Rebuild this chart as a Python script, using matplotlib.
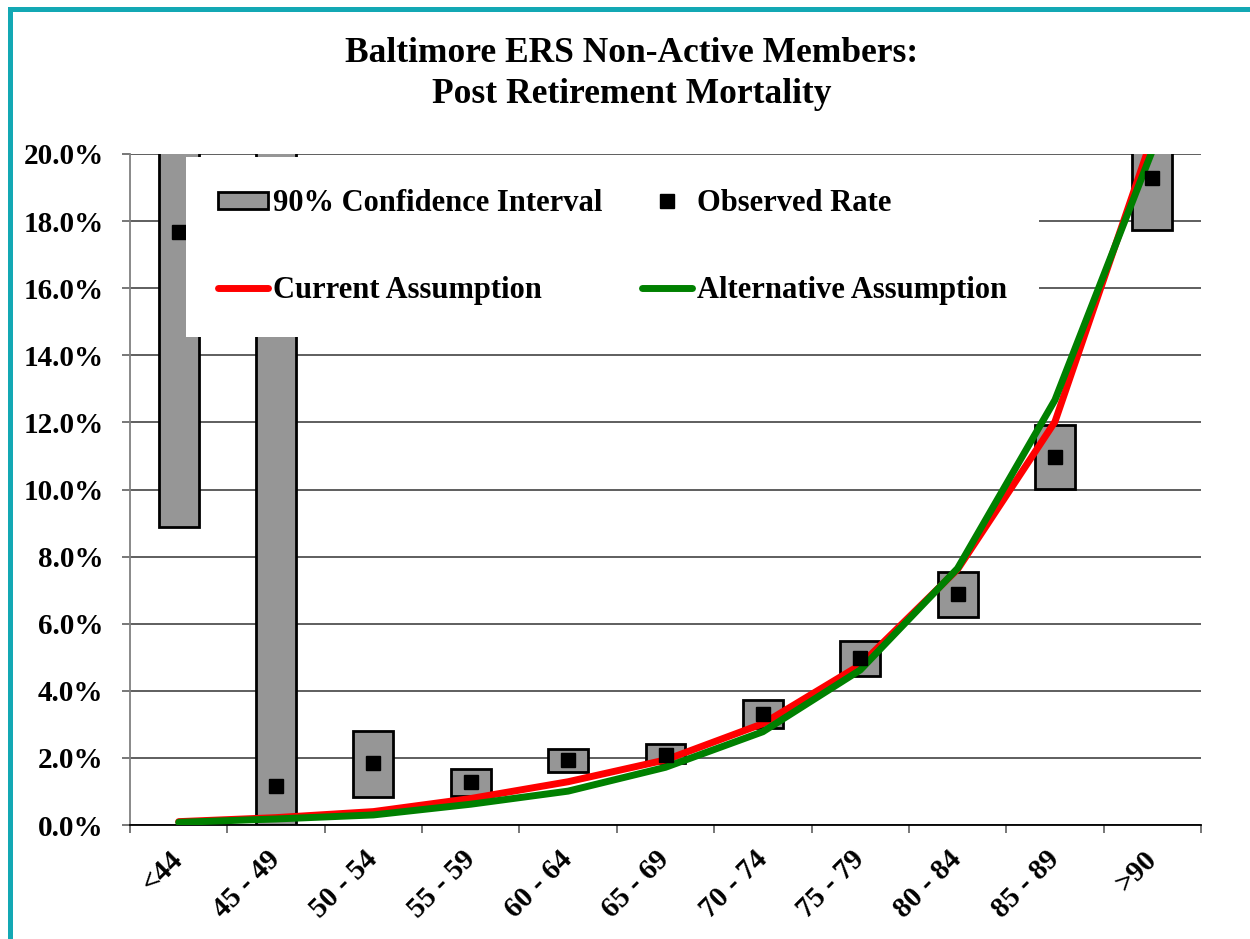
import matplotlib.pyplot as plt
import numpy as np
from matplotlib.patches import Rectangle

plt.rcParams['font.family'] = ['Liberation Serif', 'DejaVu Serif']
plt.rcParams['font.weight'] = 'bold'

# age groups
ages = ["<44", "45 - 49", "50 - 54", "55 - 59", "60 - 64", "65 - 69",
        "70 - 74", "75 - 79", "80 - 84", "85 - 89", ">90"]

# 90% confidence interval, in percent (tops of first two / last are off the chart)
ci_low = [8.89, 0.00, 0.84, 0.86, 1.59, 1.84, 2.90, 4.45, 6.21, 10.01, 17.73]
ci_high = [26.5, 24.0, 2.80, 1.66, 2.27, 2.41, 3.74, 5.49, 7.55, 11.92, 23.0]

observed = [17.68, 1.16, 1.84, 1.28, 1.94, 2.09, 3.32, 4.99, 6.89, 10.97, 19.27]
current = [0.10, 0.22, 0.40, 0.79, 1.29, 1.94, 3.02, 4.77, 7.62, 12.02, 20.5]
alternative = [0.08, 0.18, 0.30, 0.62, 1.01, 1.72, 2.78, 4.62, 7.65, 12.67, 20.1]

fig = plt.figure(figsize=(12.5, 9.39), dpi=100)
ax = fig.add_axes([0.104, 0.1214, 0.8568, 0.7146])

x = np.arange(len(ages))
ci_h = np.array(ci_high) - np.array(ci_low)

bars = ax.bar(x, ci_h, bottom=ci_low, width=0.41, color='#969696',
              edgecolor='black', linewidth=2, zorder=2,
              label='90% Confidence Interval')
l_cur, = ax.plot(x, current, color='#FF0000', lw=5, zorder=3,
                 label='Current Assumption', solid_capstyle='round')
l_alt, = ax.plot(x, alternative, color='#008000', lw=5, zorder=4,
                 label='Alternative Assumption', solid_capstyle='round')
pts, = ax.plot(x, observed, 's', color='black', markersize=9.5, zorder=5,
               label='Observed Rate', linestyle='none')

ax.set_xlim(-0.5, len(ages) - 0.5)
ax.set_ylim(0, 20)

yt = np.arange(0, 21, 2)
ax.set_yticks(yt)
ax.set_yticklabels([f"{v:.1f}%" for v in yt], fontsize=21, fontweight='bold')
ax.yaxis.grid(True, color='#333333', lw=1.1)
ax.set_axisbelow(True)

ax.set_xticks(x)
ax.set_xticklabels(ages, fontsize=21, fontweight='bold', rotation=45,
                   ha='right', va='center', rotation_mode='anchor')
ax.set_xticks(np.arange(-0.5, len(ages), 1), minor=True)
ax.tick_params(axis='x', which='major', length=0, pad=22)
ax.tick_params(axis='x', which='minor', length=6, width=1.2, color='#606060',
               direction='out')
ax.tick_params(axis='y', length=6, width=1.2, color='#606060', pad=13)

for s in ['top', 'right']:
    ax.spines[s].set_visible(False)
ax.spines['left'].set_color('#808080')
ax.spines['left'].set_linewidth(1.3)
ax.spines['bottom'].set_color('black')
ax.spines['bottom'].set_linewidth(1.3)

leg = ax.legend(handles=[bars, l_cur, pts, l_alt], ncol=2,
                loc='upper left', bbox_to_anchor=(0.149, 0.8328),
                bbox_transform=fig.transFigure, borderaxespad=0,
                prop=dict(family='Liberation Serif', weight='bold', size=22),
                frameon=True, fancybox=False, framealpha=1,
                facecolor='white', edgecolor='none',
                handlelength=1.64, handleheight=0.5, handletextpad=0.15,
                columnspacing=1.3, labelspacing=1.88, borderpad=1.05)
leg.set_zorder(6)

fig.text(0.505, 0.943, "Baltimore ERS Non-Active Members:", ha='center',
         va='center', fontsize=25.5, fontweight='bold')
fig.text(0.505, 0.899, "Post Retirement Mortality", ha='center',
         va='center', fontsize=25.5, fontweight='bold')

# teal frame (top and left)
teal = '#13A8B4'
fig.add_artist(Rectangle((8 / 1250, 1 - 12 / 939), 1 - 8 / 1250, 4.5 / 939,
                         transform=fig.transFigure, color=teal, lw=0))
fig.add_artist(Rectangle((8 / 1250, 0), 4.5 / 1250, 1 - 8 / 939,
                         transform=fig.transFigure, color=teal, lw=0))

fig.savefig('out.png', dpi=100, facecolor='white')
